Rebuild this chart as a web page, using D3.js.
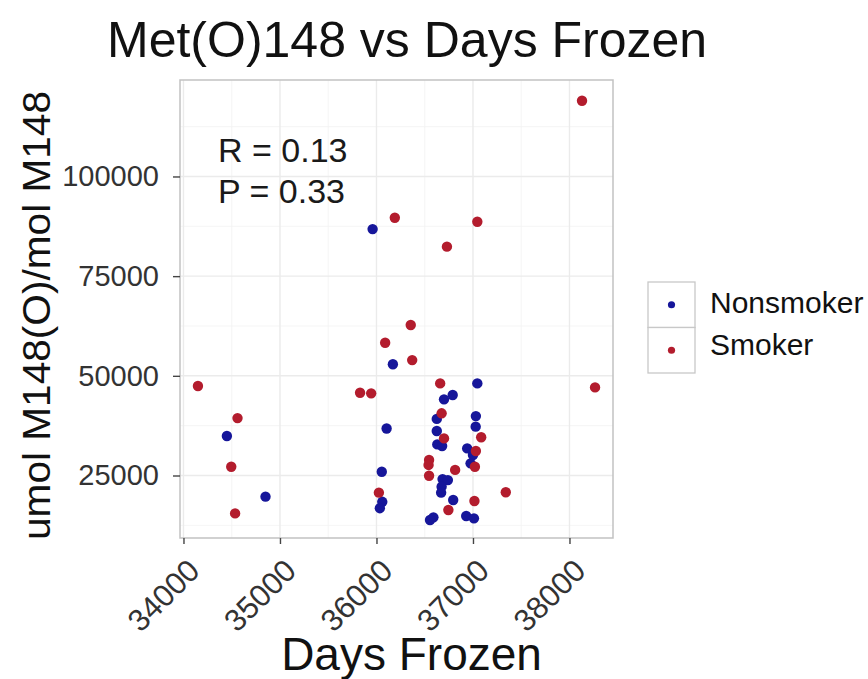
<!DOCTYPE html>
<html>
<head>
<meta charset="utf-8">
<script src="https://cdn.jsdelivr.net/npm/d3@7"></script>
<style>
  body { margin: 0; background: #fff; }
  svg { display: block; font-family: "Liberation Sans", Arial, sans-serif; }
</style>
</head>
<body>
<svg id="chart" width="868" height="679"></svg>
<script>
// Met(O)148 level against storage time, split by smoking status
const groups = ["Nonsmoker", "Smoker"];
const groupColors = ["#16169a", "#b31c2d"];

const nonsmokerDays = [35960, 36170, 34450, 36105, 36055, 34850, 36060, 36035, 37045, 36790,
  36700, 36625, 37030, 37028, 36625, 36630, 36680, 36940, 37000, 36975,
  36685, 36740, 36675, 36670, 36795, 36930, 37010, 36590, 36555];
const nonsmokerMetO = [86800, 52900, 34900, 36800, 25950, 19700, 18400, 16800, 48100, 45200,
  44100, 39200, 39900, 37250, 36150, 32800, 32400, 31800, 30150, 28050,
  24100, 23850, 22200, 20700, 18850, 14850, 14250, 14500, 13850];

const smokerDays = [38130, 36190, 36730, 37045, 36355, 36090, 36370, 34150, 35830, 35945,
  34560, 34495, 36025, 34535, 36660, 38265, 36675, 36700, 37085, 37030,
  36545, 36540, 37020, 36815, 36545, 37340, 37015, 36745];
const smokerMetO = [119000, 89650, 82400, 88650, 62750, 58300, 53950, 47450, 45750, 45600,
  39400, 27200, 20700, 15500, 48100, 47100, 40600, 34300, 34600, 31150,
  28900, 27650, 27200, 26400, 24950, 20800, 18600, 16350];

const xTicks = [34000, 35000, 36000, 37000, 38000];
const xMinor = [34500, 35500, 36500, 37500];
const yTicks = [25000, 50000, 75000, 100000];
const yMinor = [12500, 37500, 62500, 87500, 112500];

const statLines = ["R = 0.13", "P = 0.33"];

const panel = { left: 180, top: 80, right: 613, bottom: 538 };

const svg = d3.select("#chart");

const x = d3.scaleLinear().domain([33964, 38451]).range([panel.left, panel.right]);
const y = d3.scaleLinear().domain([9324, 124197]).range([panel.bottom, panel.top]);

// panel background
svg.append("rect")
  .attr("x", panel.left).attr("y", panel.top)
  .attr("width", panel.right - panel.left).attr("height", panel.bottom - panel.top)
  .attr("fill", "#fff");

// grid lines
const grid = svg.append("g");
grid.selectAll(".xminor").data(xMinor).join("line")
  .attr("x1", d => x(d)).attr("x2", d => x(d))
  .attr("y1", panel.top).attr("y2", panel.bottom)
  .attr("stroke", "#f3f3f3").attr("stroke-width", 0.8);
grid.selectAll(".yminor").data(yMinor).join("line")
  .attr("y1", d => y(d)).attr("y2", d => y(d))
  .attr("x1", panel.left).attr("x2", panel.right)
  .attr("stroke", "#f3f3f3").attr("stroke-width", 0.8);
grid.selectAll(".xmajor").data(xTicks).join("line")
  .attr("x1", d => x(d)).attr("x2", d => x(d))
  .attr("y1", panel.top).attr("y2", panel.bottom)
  .attr("stroke", "#ebebeb").attr("stroke-width", 1.4);
grid.selectAll(".ymajor").data(yTicks).join("line")
  .attr("y1", d => y(d)).attr("y2", d => y(d))
  .attr("x1", panel.left).attr("x2", panel.right)
  .attr("stroke", "#ebebeb").attr("stroke-width", 1.4);

// points
const series = [
  { name: groups[0], color: groupColors[0], days: nonsmokerDays, val: nonsmokerMetO },
  { name: groups[1], color: groupColors[1], days: smokerDays, val: smokerMetO }
];
series.forEach(s => {
  const pts = s.days.map((d, i) => ({ d, v: s.val[i] }));
  svg.append("g").selectAll("circle").data(pts).join("circle")
    .attr("cx", p => x(p.d)).attr("cy", p => y(p.v))
    .attr("r", 5.2)
    .attr("fill", s.color);
});

// panel border
svg.append("rect")
  .attr("x", panel.left).attr("y", panel.top)
  .attr("width", panel.right - panel.left).attr("height", panel.bottom - panel.top)
  .attr("fill", "none").attr("stroke", "#c2c2c2").attr("stroke-width", 1.5);

// y axis
const yAxis = svg.append("g")
  .attr("transform", `translate(${panel.left},0)`)
  .call(d3.axisLeft(y).tickValues(yTicks).tickSize(7).tickPadding(14).tickFormat(d3.format("d")));
yAxis.select(".domain").remove();
yAxis.selectAll(".tick line").attr("stroke", "#444").attr("stroke-width", 1.4);
yAxis.selectAll(".tick text")
  .attr("font-size", 29).attr("fill", "#333")
  .attr("font-family", "'Liberation Sans', Arial, sans-serif");

// x axis
const xAxis = svg.append("g")
  .attr("transform", `translate(0,${panel.bottom})`)
  .call(d3.axisBottom(x).tickValues(xTicks).tickSize(6).tickFormat(d3.format("d")));
xAxis.select(".domain").remove();
xAxis.selectAll(".tick line").attr("stroke", "#444").attr("stroke-width", 1.4);
xAxis.selectAll(".tick text")
  .attr("font-size", 31).attr("fill", "#333")
  .attr("font-family", "'Liberation Sans', Arial, sans-serif")
  .attr("text-anchor", "end")
  .attr("transform", "translate(2,19) rotate(-45)")
  .attr("x", 0).attr("y", 0).attr("dy", "0.71em");

// titles
svg.append("text")
  .attr("x", 107).attr("y", 57)
  .attr("font-size", 50).attr("fill", "#111")
  .text("Met(O)148 vs Days Frozen");

svg.append("text")
  .attr("x", 411.5).attr("y", 670)
  .attr("text-anchor", "middle")
  .attr("font-size", 46).attr("fill", "#111")
  .text("Days Frozen");

svg.append("text")
  .attr("transform", `translate(50,${(91 + 540) / 2}) rotate(-90)`)
  .attr("text-anchor", "middle")
  .attr("font-size", 38).attr("fill", "#111")
  .attr("textLength", 449).attr("lengthAdjust", "spacingAndGlyphs")
  .text("umol M148(O)/mol M148");

// correlation annotation
svg.append("g").selectAll("text").data(statLines).join("text")
  .attr("x", 218).attr("y", (d, i) => 162 + i * 41)
  .attr("font-size", 34).attr("fill", "#1a1a1a")
  .text(d => d);

// legend
const legend = svg.append("g").attr("transform", "translate(648,282)");
const keyH = 45.5;
const labelBaseline = [31, 73];
groups.forEach((g, i) => {
  legend.append("rect")
    .attr("x", 0).attr("y", i * keyH)
    .attr("width", 47).attr("height", keyH)
    .attr("fill", "#fff").attr("stroke", "#c8c8c8").attr("stroke-width", 1.3);
  legend.append("circle")
    .attr("cx", 23.5).attr("cy", i * keyH + keyH / 2)
    .attr("r", 3.6).attr("fill", groupColors[i]);
  legend.append("text")
    .attr("x", 62).attr("y", labelBaseline[i])
    .attr("font-size", 30).attr("fill", "#111")
    .text(g);
});
</script>
</body>
</html>
